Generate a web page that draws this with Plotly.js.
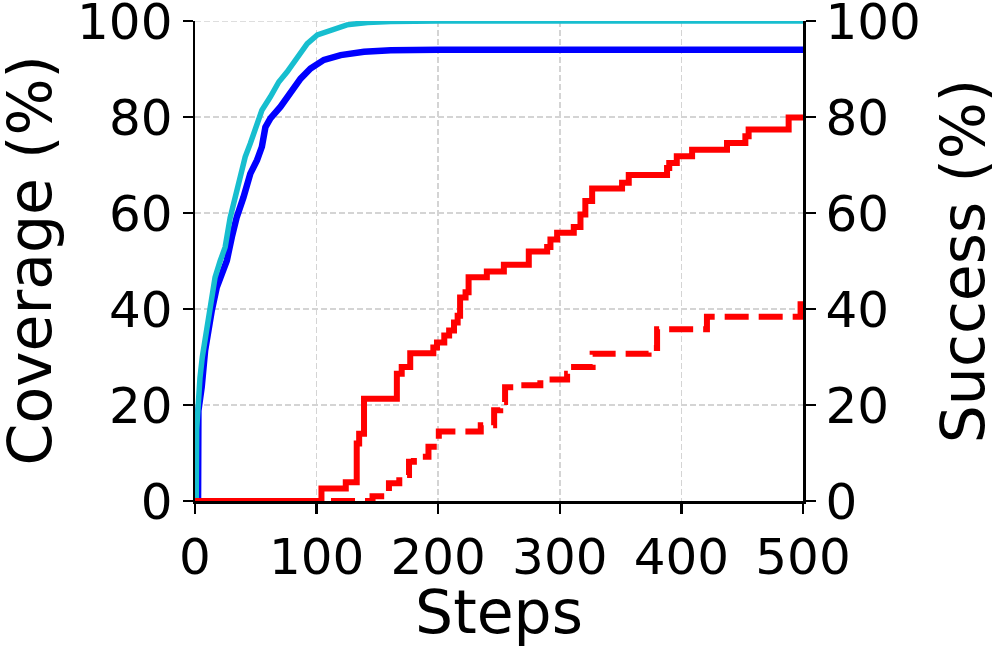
<!DOCTYPE html>
<html>
<head>
<meta charset="utf-8">
<script src="https://cdn.plot.ly/plotly-3.0.1.min.js"></script>
<style>html,body{margin:0;padding:0;background:#fff;}#chart{width:998px;height:647px;}</style>
</head>
<body>
<div id="chart"></div>
<script>
// Coverage curves (left axis)
const covAX = [0,1,1.4,2.5,4.1,6,8.3,10,12.4,16.5,20.7,24.8,28.9,33,37.2,41.3,45.5,51,55,62,68.9,75.8,84,92.3,100.6,111.6,125,141.9,161,200,500];
const covAY = [0,0,15,22,25.7,30,33.4,36,39.7,46.6,50,52.9,59,63.3,67.5,71.7,74.5,78.6,81.4,84.2,87.3,89.4,92.5,95.3,97.1,98.1,99.2,99.7,99.9,100,100];
const covBX = [0,2.5,2.8,4,5.5,8.3,11,13.8,17.9,22,26.2,30.3,34.4,39.9,45.5,51,55,57.9,62,70.2,78.5,86.8,95,106,119.8,139,161,200,500];
const covBY = [0,0,18.8,21,23.7,31.3,36.2,39.7,44.5,47.3,50.1,55,59.2,63.3,68.2,71,73.8,77.9,79.7,82.1,84.9,88,90.1,91.9,92.9,93.6,93.9,94,94];
// Success curves (right axis)
const sucAX = [0,104,124,133,135,139,166,170,177,196,199,205,209,213,216,218,222.5,225,240,254,274.5,289.6,292.3,297.8,311.5,317,321,326.6,351.2,356.7,388.2,390,396.2,408.8,437.5,452.6,455.3,488.2,500];
const sucAY = [0,2.6,3.9,12,14,21.3,26.5,27.9,30.8,32,33,34.5,35.5,37.2,38.6,42.4,43.5,46.6,47.8,49.2,52,52.9,54.5,55.9,57.1,59.7,62.5,65.1,66.3,67.9,69.4,70.4,71.8,73.2,74.6,76,77.4,79.9,79.9];
const sucBX = [0,146,159.5,168,176,180,192,200.5,235,246,251,255,265,284,306,309,327,373,380,421,498,500];
const sucBY = [0,1,3.7,5.4,8.2,9.2,11.3,14.5,15.8,18.9,20.6,23.7,24.1,25.3,26.5,27.9,30.7,31.9,35.8,38.4,41,41];
const xTicks = [0,100,200,300,400,500];
const yTicks = [0,20,40,60,80,100];
const yLeftTitle = 'Coverage (%)';

const FONT = 'DejaVu Sans';
const GRID = '#d4d4d4';
const traces = [
  {x: covBX, y: covBY, mode:'lines', line:{color:'#0000ff', width:6.5}, yaxis:'y', showlegend:false},
  {x: covAX, y: covAY, mode:'lines', line:{color:'#17becf', width:5.5}, yaxis:'y', showlegend:false},
  {x: sucBX, y: sucBY, mode:'lines', line:{color:'#ff0000', width:6, shape:'hv', dash:'24px,10px'}, yaxis:'y2', showlegend:false},
  {x: sucAX, y: sucAY, mode:'lines', line:{color:'#ff0000', width:6, shape:'hv'}, yaxis:'y2', showlegend:false}
];
const axisCommon = {ticks:'outside', ticklen:10, tickwidth:2.5, tickcolor:'#000',
  showline:true, linecolor:'#000', linewidth:2.5, zeroline:false, ticklabeloverflow:'allow',
  tickfont:{family:FONT, size:50, color:'#000'}};
const layout = {
  width:998, height:647,
  margin:{l:195, r:195, t:21, b:146},
  paper_bgcolor:'#fff', plot_bgcolor:'#fff',
  font:{family:FONT, color:'#000', size:50},
  xaxis:Object.assign({}, axisCommon, {range:[0,500], tickvals:xTicks, ticktext:xTicks.map(String), mirror:false,
    showgrid:true, gridcolor:GRID, gridwidth:1.6, griddash:'6px,3px',
    title:{text:'Steps', font:{family:FONT, size:60, color:'#000'}, standoff:6}}),
  yaxis:Object.assign({}, axisCommon, {range:[0,100], tickvals:yTicks, ticktext:yTicks.map(String), mirror:false,
    showgrid:true, gridcolor:GRID, gridwidth:1.6, griddash:'6px,3px'}),
  yaxis2:Object.assign({}, axisCommon, {range:[0,100], overlaying:'y', side:'right', tickvals:yTicks, ticktext:yTicks.map(String),
    showgrid:false,
    title:{text:'Success (%)', font:{family:FONT, size:60, color:'#000'}, standoff:45}}),
  annotations:[{text:yLeftTitle, xref:'paper', yref:'paper', x:-0.2722, y:0.5, xanchor:'center', yanchor:'middle',
    textangle:-90, showarrow:false, font:{family:FONT, size:60, color:'#000'}}],
  shapes:[{type:'line', xref:'x', yref:'y', x0:0, x1:500, y0:100, y1:100, layer:'below',
    line:{color:GRID, width:1.6, dash:'6px,3px'}}],
  showlegend:false
};
Plotly.newPlot('chart', traces, layout, {displayModeBar:false, staticPlot:true});
</script>
</body>
</html>
